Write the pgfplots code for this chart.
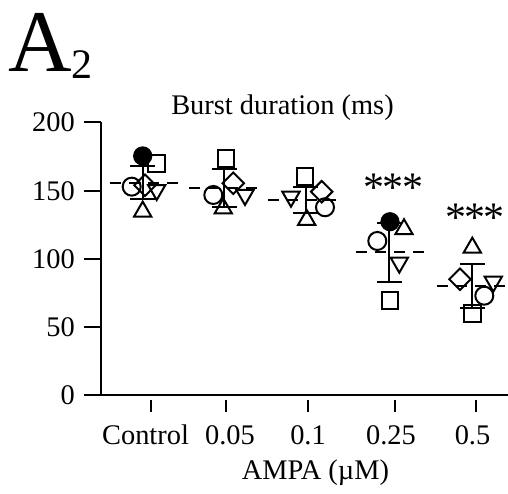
\documentclass[border=0pt]{standalone}
\usepackage{fontspec}
\setmainfont{Liberation Serif}
\usepackage{pgfplots}
\pgfplotsset{compat=1.18}
\begin{document}
\begin{tikzpicture}
\begin{axis}[
  scale only axis,
  width=203.5pt, height=136.5pt,
  xmin=101, xmax=508, ymin=0, ymax=200,
  axis lines*=left,
  axis line style={line width=1pt, black},
  clip=false,
  ytick={0,50,100,150,200},
  xtick={145.5,230,308,391,472.5},
  xticklabels={Control,0.05,0.1,0.25,0.5},
  tick align=outside,
  major tick length=8.3pt,
  ytick style={line width=1pt, black},
  xtick style={draw=none},
  tick label style={font=\fontsize{14.2}{16}\selectfont, black},
  /pgf/number format/assume math mode=true,
  yticklabel style={inner sep=0pt, xshift=-4.6pt},
  xticklabel style={inner sep=0pt, anchor=base, yshift=-16pt},
]
% mean lines
\addplot[black, line width=1pt, dash pattern=on 5.5pt off 4pt] coordinates {(110,155.9) (180,155.9)};
\addplot[black, line width=1pt, dash pattern=on 5.5pt off 4pt] coordinates {(189.3,151.8) (258.3,151.8)};
\addplot[black, line width=1pt, dash pattern=on 5.5pt off 4pt] coordinates {(268,143.2) (337,143.2)};
\addplot[black, line width=1pt, dash pattern=on 5.5pt off 4pt] coordinates {(356,104.9) (425,104.9)};
\addplot[black, line width=1pt, dash pattern=on 5.5pt off 4pt] coordinates {(437,80.2) (505,80.2)};
% SD error bars
\addplot[draw=none, mark=none,
  error bars/.cd, y dir=both, y explicit, error mark=-,
  error mark options={mark size=6.25pt, line width=1pt, draw=black, rotate=90},
  error bar style={line width=1pt, draw=black, solid}]
  coordinates {
  (142.7,155.9) +- (0,12.2)
  (224.2,151.8) +- (0,14)
  (305.6,143.2) +- (0,9.2)
  (389.3,104.9) +- (0,21.7)
  (472.3,80.2) +- (0,16)
  };
% individual points
\addplot[only marks, mark=*, mark size=4.3pt, mark options={line width=1pt, draw=black, fill=black}]
  coordinates {(142.7,175.5) (390,127.3)};
\addplot[only marks, mark=square, mark size=4.2pt, mark options={line width=1pt, draw=black, fill=none}]
  coordinates {(156.7,170) (226,173.8) (305,160.3) (390,69.5) (472.3,60.2)};
\addplot[only marks, mark=o, mark size=4.5pt, mark options={line width=1pt, draw=black, fill=none}]
  coordinates {(131.7,153) (213.3,146.9) (325,137.9) (377.3,113.2) (484.3,73.1)};
\addplot[only marks, mark=square, mark size=3.8pt, mark options={line width=1pt, draw=black, fill=none, rotate=45}]
  coordinates {(145,154) (233.3,155.5) (321.7,149.3) (460,85.1)};
\addplot[only marks, mark=triangle, mark size=5pt, mark options={line width=1pt, draw=black, fill=none}]
  coordinates {(142.7,134.7) (223.3,137) (306.7,128.6) (404,121.8) (472.3,108.3)};
\addplot[only marks, mark=triangle, mark size=5pt, mark options={line width=1pt, draw=black, fill=none, rotate=180}]
  coordinates {(156.7,150.5) (245,146.9) (291,145.6) (399.3,97.3) (493.3,83.4)};
% x ticks (offset below the axis line)
\draw[line width=1pt] ([yshift=-2.5pt]axis cs:150.7,0) -- ([yshift=-8.3pt]axis cs:150.7,0);
\draw[line width=1pt] ([yshift=-2.5pt]axis cs:225.7,0) -- ([yshift=-8.3pt]axis cs:225.7,0);
\draw[line width=1pt] ([yshift=-2.5pt]axis cs:307.7,0) -- ([yshift=-8.3pt]axis cs:307.7,0);
\draw[line width=1pt] ([yshift=-2.5pt]axis cs:395,0) -- ([yshift=-8.3pt]axis cs:395,0);
\draw[line width=1pt] ([yshift=-2.5pt]axis cs:475.7,0) -- ([yshift=-8.3pt]axis cs:475.7,0);
% texts
\node[anchor=base, inner sep=0pt, font=\fontsize{14.2}{16}\selectfont] at (axis cs:282.5,205.5) {Burst duration (ms)};
\node[anchor=base, inner sep=0pt, font=\fontsize{14.2}{16}\selectfont] at (axis cs:315.5,-61.9) {AMPA (µM)};
\node[anchor=base, inner sep=0pt, font=\fontsize{21}{21}\selectfont] at (axis cs:393.3,142.3) {\makebox[9.6pt]{*}\makebox[9.6pt]{*}\makebox[9.6pt]{*}};
\node[anchor=base, inner sep=0pt, font=\fontsize{21}{21}\selectfont] at (axis cs:475,120.2) {\makebox[9.6pt]{*}\makebox[9.6pt]{*}\makebox[9.6pt]{*}};
\node[anchor=base west, inner sep=0pt] at (axis cs:8,237.2) {\fontsize{44}{44}\selectfont A\raisebox{-3.2pt}{\fontsize{21}{21}\selectfont 2}};
\coordinate (tl) at (axis cs:0,289.74);
\coordinate (br) at (axis cs:508,-72.16);
\end{axis}
\pgfresetboundingbox
\useasboundingbox (tl) rectangle (br);
\end{tikzpicture}
\end{document}
